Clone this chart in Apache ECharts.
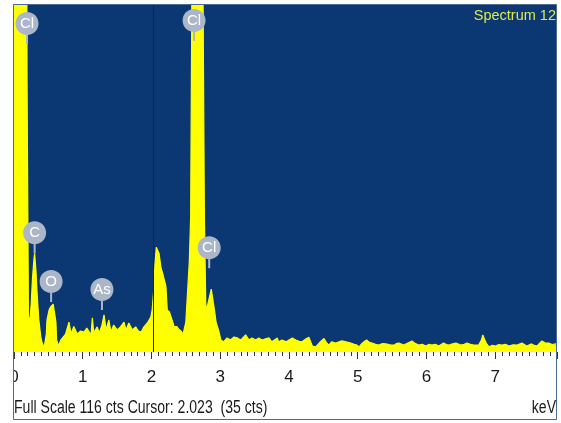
<!DOCTYPE html>
<html>
<head>
<meta charset="utf-8">
<script src="https://cdn.jsdelivr.net/npm/echarts@6/dist/echarts.min.js"></script>
<style>
    html, body { margin: 0; padding: 0; background: #ffffff; }
    #spectrum { width: 561px; height: 423px; }
</style>
</head>
<body>
<div id="spectrum"></div>
<script>
// energy (keV) and counts
var energyKeV = [
    0.00, 0.04, 0.08, 0.12, 0.15, 0.17, 0.19, 0.21, 0.23, 0.25, 0.27, 0.29, 0.30, 0.32, 0.33, 0.36, 0.39, 0.41, 0.44, 0.47,
    0.48, 0.51, 0.53, 0.55, 0.57, 0.59, 0.61, 0.62, 0.65, 0.68, 0.70, 0.75, 0.80, 0.83, 0.87, 0.92, 0.97, 1.02, 1.06, 1.12,
    1.14, 1.16, 1.21, 1.24, 1.28, 1.31, 1.34, 1.38, 1.41, 1.45, 1.50, 1.55, 1.60, 1.63, 1.67, 1.72, 1.77, 1.81, 1.85, 1.89,
    1.94, 1.99, 2.01, 2.03, 2.05, 2.07, 2.09, 2.11, 2.14, 2.16, 2.18, 2.21, 2.23, 2.26, 2.28, 2.31, 2.33, 2.37, 2.40, 2.43,
    2.46, 2.48, 2.50, 2.52, 2.55, 2.57, 2.59, 2.62, 2.66, 2.70, 2.73, 2.75, 2.77, 2.79, 2.80, 2.82, 2.84, 2.87, 2.89, 2.91,
    2.94, 2.98, 3.01, 3.05, 3.10, 3.15, 3.20, 3.25, 3.30, 3.37, 3.42, 3.46, 3.52, 3.56, 3.61, 3.66, 3.71, 3.75, 3.80, 3.83,
    3.85, 3.90, 3.96, 4.00, 4.05, 4.10, 4.15, 4.19, 4.25, 4.29, 4.34, 4.39, 4.44, 4.51, 4.55, 4.58, 4.62, 4.68, 4.73, 4.77,
    4.83, 4.90, 4.95, 4.99, 5.02, 5.06, 5.09, 5.13, 5.17, 5.21, 5.26, 5.31, 5.36, 5.41, 5.47, 5.53, 5.56, 5.60, 5.67, 5.73,
    5.79, 5.84, 5.89, 5.94, 5.99, 6.04, 6.08, 6.13, 6.18, 6.25, 6.29, 6.33, 6.38, 6.43, 6.50, 6.55, 6.59, 6.64, 6.69, 6.76,
    6.80, 6.82, 6.85, 6.87, 6.91, 6.96, 7.01, 7.05, 7.10, 7.15, 7.20, 7.26, 7.32, 7.39, 7.46, 7.53, 7.57, 7.61, 7.68, 7.73,
    7.78, 7.83, 7.88, 7.90
];
var counts = [
    420, 560, 640, 600, 480, 300, 90, 12, 10, 16, 25, 31, 33, 27, 22, 11, 5, 3, 1.7, 6,
    10.7, 14, 15, 15.5, 16, 16, 10, 4, 2, 4, 4, 6, 10, 6, 8.5, 6, 7, 6.7, 8, 5.7,
    11.4, 6.4, 8.4, 6.4, 9, 12.4, 7.4, 10.7, 6.7, 9, 7.4, 8.4, 10, 7.4, 9.7, 7.4, 8.4, 7, 6.7, 8.4,
    9.7, 11.7, 14, 20, 29, 35, 34, 33, 28, 26.5, 26, 22, 14, 13.5, 13, 10, 8.5, 8.5, 7.5, 7,
    6, 8, 10, 18, 30, 45, 130, 300, 420, 360, 220, 120, 45, 16, 14, 16, 18, 21, 18, 15,
    10, 7, 4, 3.4, 4.7, 4, 5, 4.7, 4, 5.7, 4, 4.7, 4, 4.7, 4, 4.4, 4.7, 3.4, 4.2, 4.7,
    3.4, 4, 3.4, 4, 4.7, 4, 3.6, 3.4, 4.4, 4.9, 2, 1.7, 3, 4.5, 3, 2.3, 3.4, 3, 3.4, 3.7,
    3.4, 3, 2.6, 2.3, 1.7, 2.8, 3.4, 4, 3.2, 3, 2.6, 2.3, 2.8, 2.7, 2.4, 2.3, 2.8, 3, 2.3, 3,
    3.7, 2.8, 2.3, 2.6, 2, 2.6, 2.3, 2.6, 2, 3, 2.5, 2.3, 2.7, 3, 2.3, 2.6, 3, 2.6, 2.3, 2.3,
    4, 5.7, 4, 3, 1.7, 2.2, 2, 2.5, 2.3, 2.6, 2, 2.4, 2.3, 3, 2, 2.7, 2.2, 2, 3.7, 3,
    3, 2.5, 2.7, 2.7
];

// element markers: name, energy, counts at tip of the pin
var peakNames = ['Cl', 'C', 'O', 'As', 'Cl', 'Cl'];
var peakKeV = [0.19, 0.30, 0.54, 1.28, 2.62, 2.84];
var peakCts = [103, 33, 16.7, 14, 104, 28];

var fullScale = 116;
var cursorKeV = 2.023;
var xTicks = [0, 1, 2, 3, 4, 5, 6, 7];

var pinPath = 'path://M11.5,0 C17.9,0 23,5.1 23,11.5 C23,17.9 17.9,23 11.5,23 C5.1,23 0,17.9 0,11.5 C0,5.1 5.1,0 11.5,0 Z M10.5,22 L12.5,22 L12.5,32 L10.5,32 Z';

function $each(arr, fn) {
    for (var i = 0; i < arr.length; i++) fn(i, arr[i]);
}

var spectrumData = [];
$each(energyKeV, function (i, v) {
    spectrumData.push([v, counts[i]]);
});
var peakData = [];
$each(peakKeV, function (i, v) {
    peakData.push({ name: peakNames[i], value: [v, peakCts[i]] });
});

var myChart = echarts.init(document.getElementById('spectrum'));

var option = {
    backgroundColor: '#ffffff',
    animation: false,
    grid: {
        left: 14,
        right: 4,
        top: 5,
        bottom: 71,
        show: true,
        backgroundColor: '#0b3872',
        borderWidth: 0
    },
    xAxis: {
        type: 'value',
        min: 0,
        max: 7.9,
        interval: 1,
        axisLine: { show: false },
        axisTick: {
            show: true,
            length: 7,
            lineStyle: { color: '#333333', width: 1 }
        },
        minorTick: {
            show: true,
            splitNumber: 10,
            length: 4,
            lineStyle: { color: '#333333', width: 1 }
        },
        splitLine: { show: false },
        axisLabel: {
            margin: 17,
            fontSize: 17,
            fontFamily: 'Liberation Sans, Arial',
            color: '#1a1a1a',
            showMaxLabel: false,
            formatter: function (v) {
                return xTicks.indexOf(v) >= 0 ? String(v) : '';
            }
        }
    },
    yAxis: {
        type: 'value',
        min: 0,
        max: fullScale,
        show: false,
        splitLine: { show: false }
    },
    series: [
        {
            name: 'Spectrum 12',
            type: 'line',
            data: spectrumData,
            symbol: 'none',
            clip: true,
            lineStyle: { color: '#ffff00', width: 1.2 },
            areaStyle: { color: '#ffff00', opacity: 1 },
            markLine: {
                silent: true,
                symbol: 'none',
                label: { show: false },
                lineStyle: { color: '#1a2233', width: 1, type: 'solid' },
                data: [{ xAxis: cursorKeV }]
            },
            z: 2
        },
        {
            name: 'peaks',
            type: 'scatter',
            data: peakData,
            symbol: pinPath,
            symbolSize: [23, 32],
            symbolOffset: [0, -16],
            itemStyle: { color: '#acb6c9', opacity: 1 },
            label: {
                show: true,
                position: 'inside',
                offset: [0, -4.5],
                formatter: '{b}',
                color: '#ffffff',
                fontSize: 15,
                fontFamily: 'Liberation Sans, Arial'
            },
            z: 5
        }
    ],
    graphic: [
        {
            type: 'rect',
            shape: { x: 0, y: 0, width: 13, height: 423 },
            style: { fill: '#ffffff' },
            z: 100
        },
        {
            type: 'rect',
            shape: { x: 13.5, y: 4.5, width: 543, height: 415 },
            style: { fill: 'none', stroke: '#4a6a90', lineWidth: 1 },
            z: 101
        },
        {
            type: 'text',
            x: 556,
            y: 16,
            style: {
                text: 'Spectrum 12',
                fill: '#dfe84b',
                fontSize: 14.5,
                fontFamily: 'Liberation Sans, Arial',
                align: 'right',
                verticalAlign: 'middle'
            },
            z: 102
        },
        {
            type: 'text',
            x: 14,
            y: 408,
            scaleX: 0.78,
            style: {
                text: 'Full Scale ' + fullScale + ' cts Cursor: ' + cursorKeV.toFixed(3) + '  (35 cts)',
                fill: '#1a1a1a',
                fontSize: 18,
                fontFamily: 'Liberation Sans, Arial',
                align: 'left',
                verticalAlign: 'middle'
            },
            z: 102
        },
        {
            type: 'text',
            x: 556,
            y: 408,
            scaleX: 0.78,
            style: {
                text: 'keV',
                fill: '#1a1a1a',
                fontSize: 18,
                fontFamily: 'Liberation Sans, Arial',
                align: 'right',
                verticalAlign: 'middle'
            },
            z: 102
        }
    ]
};

myChart.setOption(option, true);
</script>
</body>
</html>
